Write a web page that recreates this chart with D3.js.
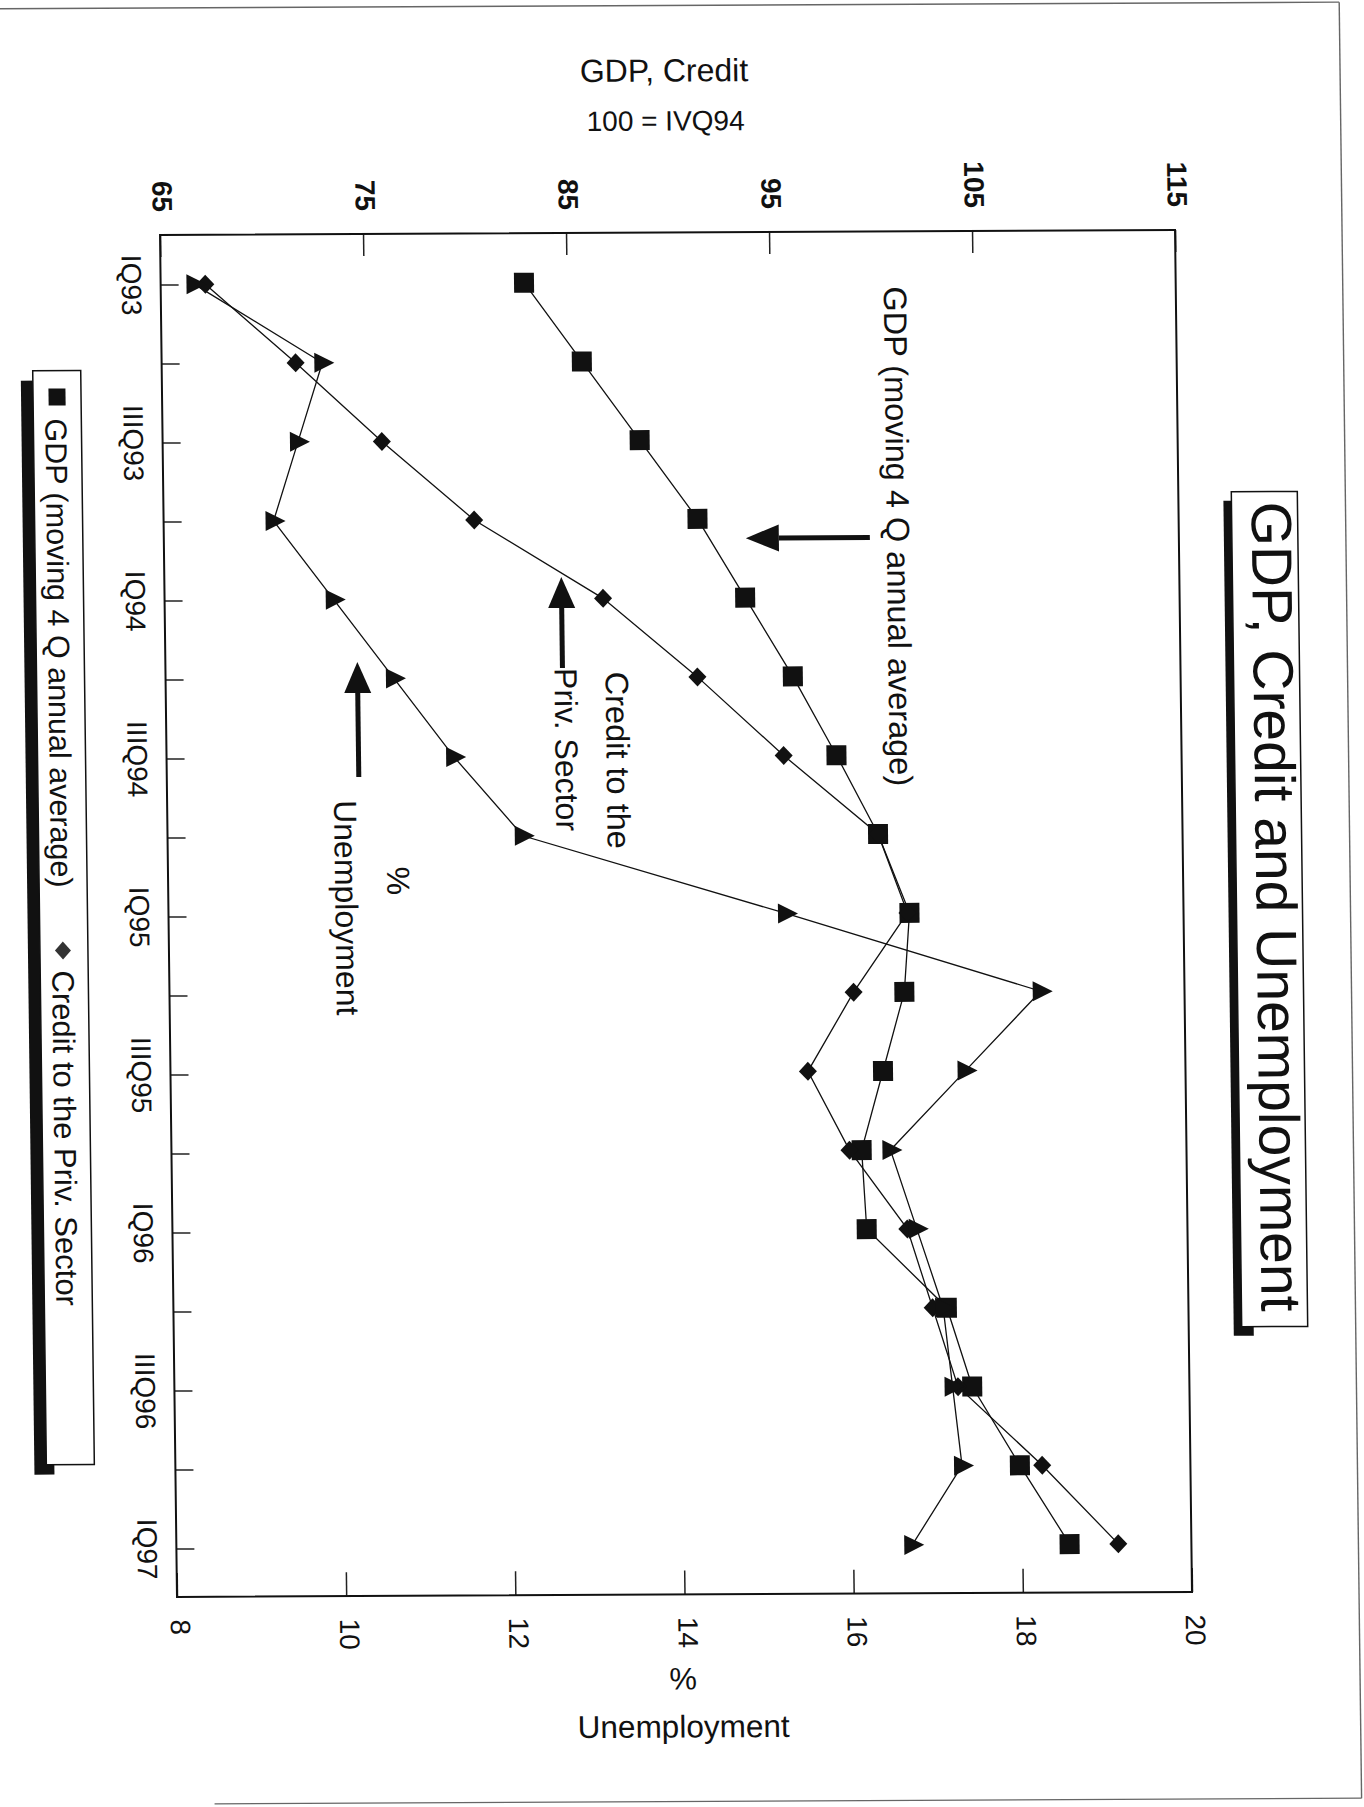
<!DOCTYPE html>
<html>
<head>
<meta charset="utf-8">
<script src="https://cdn.jsdelivr.net/npm/d3@7"></script>
<style>
  body { margin: 0; background: #fff; }
  svg { display: block; }
  text { font-family: "Liberation Sans", Arial, Helvetica, sans-serif; fill: #111; }
</style>
</head>
<body>
<svg id="chart" width="1364" height="1807"></svg>
<script>
// Quarterly series, IQ93 .. IQ97
const quarters = ["IQ93","IIQ93","IIIQ93","IVQ93","IQ94","IIQ94","IIIQ94","IVQ94",
                  "IQ95","IIQ95","IIIQ95","IVQ95","IQ96","IIQ96","IIIQ96","IVQ96","IQ97"];
// GDP, moving 4 Q annual average (100 = IVQ94)
const gdp = [82.9, 85.7, 88.5, 91.3, 93.6, 95.9, 98.0, 100.0,
             101.5, 101.2, 100.1, 99.0, 99.2, 103.1, 104.3, 106.6, 109.0];
// Credit to the private sector (100 = IVQ94)
const credit = [67.2, 71.6, 75.8, 80.3, 86.6, 91.2, 95.4, 100.0,
                101.4, 98.7, 96.4, 98.4, 101.2, 102.4, 103.6, 107.7, 111.4];
// Unemployment rate, %
const unemployment = [8.4, 9.9, 9.6, 9.3, 10.0, 10.7, 11.4, 12.2,
                      15.3, 18.3, 17.4, 16.5, 16.8, 17.1, 17.2, 17.3, 16.7];
// Axis ticks
const indexTicks = [65, 75, 85, 95, 105, 115];
const unemploymentTicks = [8, 10, 12, 14, 16, 18, 20];
const quarterLabels = quarters.filter((q, i) => i % 2 === 0);

const svg = d3.select("#chart");
// the printed page sits slightly skewed on the sheet
const page = svg.append("g").attr("transform", "matrix(1,-0.00493,0.01246,1,-2.9,0.79)");

// page edge
const edge = page.append("g").attr("stroke", "#666").attr("stroke-width", 1.4).attr("fill", "none");
edge.append("line").attr("x1", 0).attr("y1", 8).attr("x2", 1342).attr("y2", 8);
edge.append("line").attr("x1", 1342).attr("y1", 8).attr("x2", 1342).attr("y2", 1804);
edge.append("line").attr("x1", 195).attr("y1", 1804).attr("x2", 1342).attr("y2", 1804);

const L = 160, R = 1175, T = 235, B = 1597;
const xIndex = d3.scaleLinear().domain([65, 115]).range([L, R]);
const xUnemp = d3.scaleLinear().domain([8, 20]).range([L, R]);
const yQ = d3.scalePoint().domain(quarters).range([284.5, 1548.5]);

// top axis: GDP, Credit index
const gTop = page.append("g").attr("transform", `translate(0,${T})`)
  .call(d3.axisTop(xIndex).tickValues(indexTicks).tickSize(-22).tickPadding(0));
gTop.select(".domain").remove();
gTop.selectAll(".tick line").attr("stroke", "#222").attr("stroke-width", 1.5);
gTop.selectAll(".tick text")
  .attr("x", null).attr("y", null).attr("dy", "0.27em")
  .attr("transform", "translate(0,-23) rotate(90)")
  .attr("text-anchor", "end")
  .style("font-size", "28px").style("font-weight", "bold");

// bottom axis: unemployment
const gBot = page.append("g").attr("transform", `translate(0,${B})`)
  .call(d3.axisBottom(xUnemp).tickValues(unemploymentTicks).tickSize(-24).tickPadding(0));
gBot.select(".domain").remove();
gBot.selectAll(".tick line").attr("stroke", "#222").attr("stroke-width", 1.5);
gBot.selectAll(".tick text")
  .attr("x", null).attr("y", null).attr("dy", "0.25em")
  .attr("transform", "translate(0,22.5) rotate(90)")
  .attr("text-anchor", "start")
  .style("font-size", "28px");

// left axis: quarters
const gLeft = page.append("g").attr("transform", `translate(${L},0)`)
  .call(d3.axisLeft(yQ).tickSize(-18).tickPadding(0)
    .tickFormat(q => quarterLabels.includes(q) ? q : ""));
gLeft.select(".domain").remove();
gLeft.selectAll(".tick line").attr("stroke", "#222").attr("stroke-width", 1.5);
gLeft.selectAll(".tick text")
  .attr("x", null).attr("y", null).attr("dy", "0.35em")
  .attr("transform", "translate(-29,0) rotate(90)")
  .attr("text-anchor", "middle")
  .style("font-size", "28px");

// plot frame
page.append("rect").attr("x", L).attr("y", T).attr("width", R - L).attr("height", B - T)
  .attr("fill", "none").attr("stroke", "#111").attr("stroke-width", 2);

// axis titles
page.append("text").attr("x", 666).attr("y", 84).attr("text-anchor", "middle")
  .style("font-size", "32px").text("GDP, Credit");
page.append("text").attr("x", 667).attr("y", 133).attr("text-anchor", "middle")
  .style("font-size", "28px").text("100 = IVQ94");
page.append("text").attr("x", 665).attr("y", 1692).attr("text-anchor", "middle")
  .style("font-size", "31px").text("%");
page.append("text").attr("x", 665).attr("y", 1740).attr("text-anchor", "middle")
  .style("font-size", "31.5px").text("Unemployment");

// series
const series = [
  { values: gdp, scale: xIndex, shape: "square" },
  { values: credit, scale: xIndex, shape: "diamond" },
  { values: unemployment, scale: xUnemp, shape: "triangle" }
];
const shapes = {
  square: "M-10,-10H10V10H-10Z",
  diamond: "M0,-9.5L9,0L0,9.5L-9,0Z",
  triangle: "M-8,-10L12,0L-8,10Z"
};
const plot = page.append("g");
series.forEach(s => {
  const pts = s.values.map((v, i) => ({ q: quarters[i], v }));
  plot.append("path").datum(pts)
    .attr("fill", "none").attr("stroke", "#111").attr("stroke-width", 1.3)
    .attr("d", d3.line().x(d => s.scale(d.v)).y(d => yQ(d.q)));
});
series.forEach(s => {
  const pts = s.values.map((v, i) => ({ q: quarters[i], v }));
  plot.selectAll(null).data(pts).enter().append("path")
    .attr("d", shapes[s.shape]).attr("fill", "#111")
    .attr("transform", d => `translate(${s.scale(d.v)},${yQ(d.q)})`);
});

// in-plot annotations
function vText(x, y, str, size, anchor) {
  page.append("text").attr("transform", `translate(${x},${y}) rotate(90)`)
    .attr("text-anchor", anchor || "start").style("font-size", size + "px").text(str);
}
function arrow(x1, y1, x2, y2, headLen, headW) {
  const dx = x2 - x1, dy = y2 - y1, len = Math.hypot(dx, dy);
  const ux = dx / len, uy = dy / len;
  const bx = x2 - ux * headLen, by = y2 - uy * headLen;
  page.append("line").attr("x1", x1).attr("y1", y1).attr("x2", bx).attr("y2", by)
    .attr("stroke", "#111").attr("stroke-width", 5);
  page.append("path")
    .attr("d", `M${x2},${y2}L${bx - uy * headW / 2},${by + ux * headW / 2}L${bx + uy * headW / 2},${by - ux * headW / 2}Z`)
    .attr("fill", "#111");
}
vText(883, 290, "GDP (moving 4 Q annual average)", 32.5);
arrow(866, 541, 742, 541, 33, 27);
vText(600, 674, "Credit to the", 32.5);
vText(549, 670, "Priv. Sector", 32);
arrow(557, 670, 557, 579, 31, 27);
vText(379, 882, "%", 32, "middle");
vText(327, 801, "Unemployment", 32);
arrow(352, 778, 352, 663, 31, 27);

// title box
page.append("rect").attr("x", 1220).attr("y", 506).attr("width", 20).attr("height", 835).attr("fill", "#111");
page.append("rect").attr("x", 1228).attr("y", 497).attr("width", 66).attr("height", 835)
  .attr("fill", "#fff").attr("stroke", "#111").attr("stroke-width", 1.5);
vText(1248, 507, "GDP, Credit and Unemployment", 57);

// legend box
page.append("rect").attr("x", 19).attr("y", 380).attr("width", 20).attr("height", 1094).attr("fill", "#111");
page.append("rect").attr("x", 31).attr("y", 370).attr("width", 48).attr("height", 1094)
  .attr("fill", "#fff").attr("stroke", "#111").attr("stroke-width", 1.5);
page.append("rect").attr("x", 46.5).attr("y", 388).attr("width", 17).attr("height", 17).attr("fill", "#111");
vText(43, 418, "GDP (moving 4 Q annual average)", 30.5);
page.append("path").attr("d", "M0,-9L8,0L0,9L-8,0Z").attr("fill", "#333")
  .attr("transform", "translate(54,950)");
vText(43, 970, "Credit to the Priv. Sector", 31);
</script>
</body>
</html>
